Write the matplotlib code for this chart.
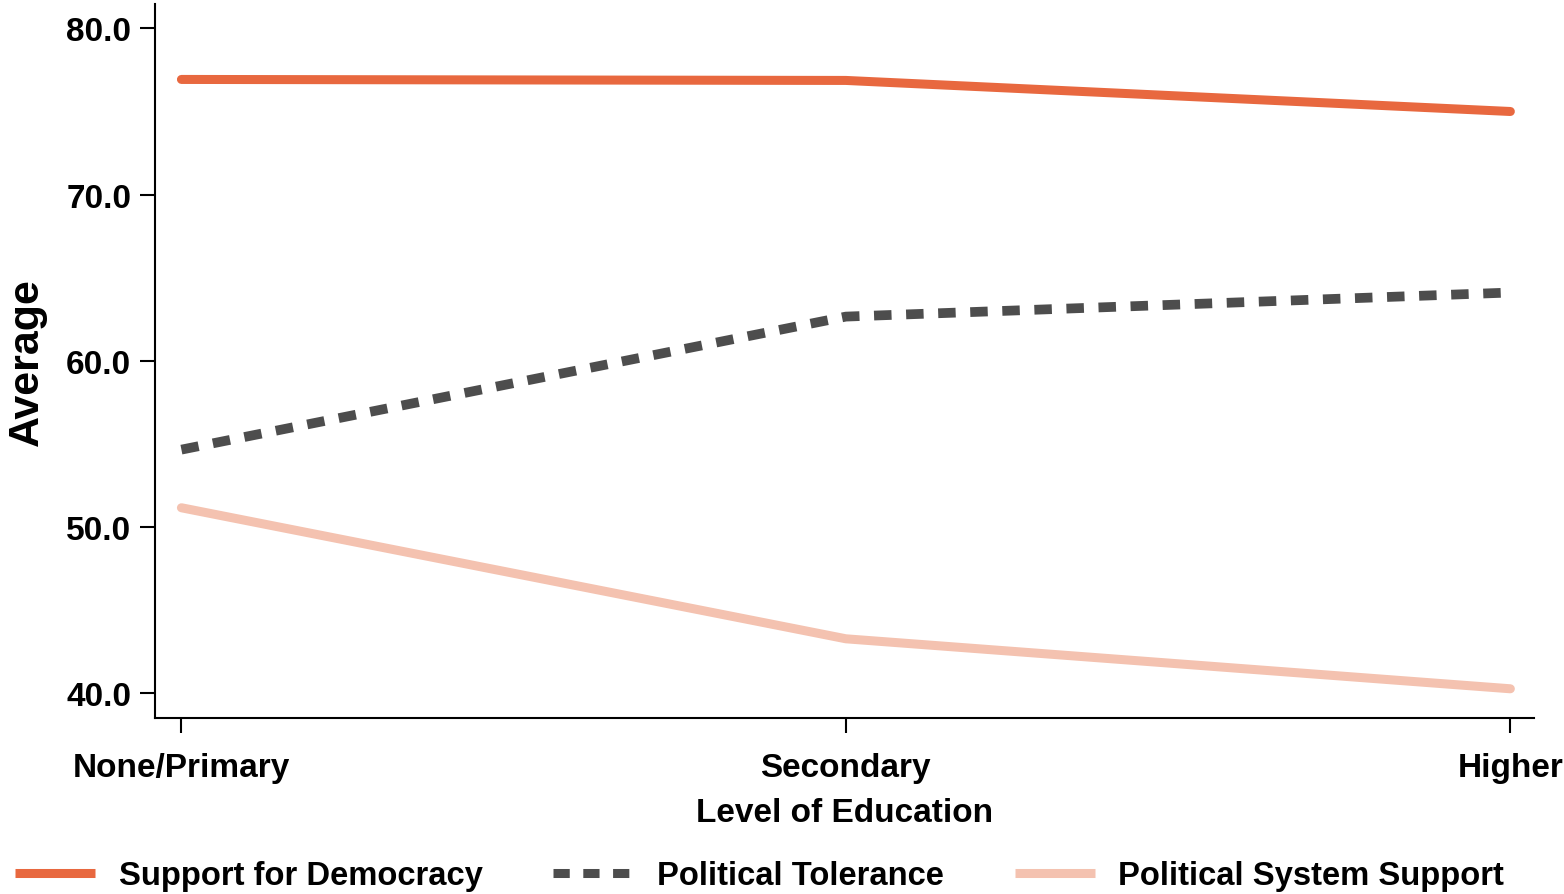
import matplotlib.pyplot as plt
from matplotlib.lines import Line2D
import numpy as np

plt.rcParams['font.family'] = ['Liberation Sans', 'DejaVu Sans']
plt.rcParams['font.weight'] = 'bold'

# 数据
categories = ['None/Primary', 'Secondary', 'Higher']
democracy = [76.93, 76.87, 75.0]
tolerance = [54.64, 62.65, 64.1]
system_support = [51.14, 43.25, 40.24]
series_names = ['Support for Democracy', 'Political Tolerance', 'Political System Support']
yticks = [40.0, 50.0, 60.0, 70.0, 80.0]

colors = ['#E8683F', '#4D4D4D', '#F4C2B0']
dash = (0, (1.8, 1.5))

fig = plt.figure(figsize=(15.64, 8.95), dpi=100)
ax = fig.add_axes([0.099, 0.197, 0.882, 0.797])

x = np.arange(len(categories))
ax.plot(x, democracy, color=colors[0], lw=6.5, solid_capstyle='round')
ax.plot(x, tolerance, color=colors[1], lw=7, linestyle=dash, dash_capstyle='butt')
ax.plot(x, system_support, color=colors[2], lw=6.5, solid_capstyle='round')

ax.set_xlim(-0.04, 2.036)
ax.set_ylim(38.5, 81.45)
ax.set_xticks(x)
ax.set_xticklabels(categories, fontsize=24, fontweight='bold')
ax.set_yticks(yticks)
ax.set_yticklabels([f'{v:.1f}' for v in yticks], fontsize=24, fontweight='bold')
ax.tick_params(axis='both', length=11, width=1.5)
ax.tick_params(axis='x', pad=14)
ax.tick_params(axis='y', pad=6)
ax.spines['top'].set_visible(False)
ax.spines['right'].set_visible(False)
ax.spines['left'].set_linewidth(1.5)
ax.spines['bottom'].set_linewidth(1.5)

ax.set_xlabel('Level of Education', fontsize=24, fontweight='bold', labelpad=10)
ax.set_ylabel('Average', fontsize=31, fontweight='bold', labelpad=14)

# 图例
handles = [
    Line2D([], [], color=colors[0], lw=6.5, solid_capstyle='butt'),
    Line2D([], [], color=colors[1], lw=6.5, linestyle=dash, dash_capstyle='butt'),
    Line2D([], [], color=colors[2], lw=6.5, solid_capstyle='butt'),
]
fig.legend(handles, series_names, loc='lower left', bbox_to_anchor=(0.0096, 0.003), ncol=3,
           frameon=False, borderpad=0, borderaxespad=0,
           fontsize=23.6, handlelength=2.45, handletextpad=0.72, columnspacing=2.15)

plt.savefig('out.png', dpi=100)
